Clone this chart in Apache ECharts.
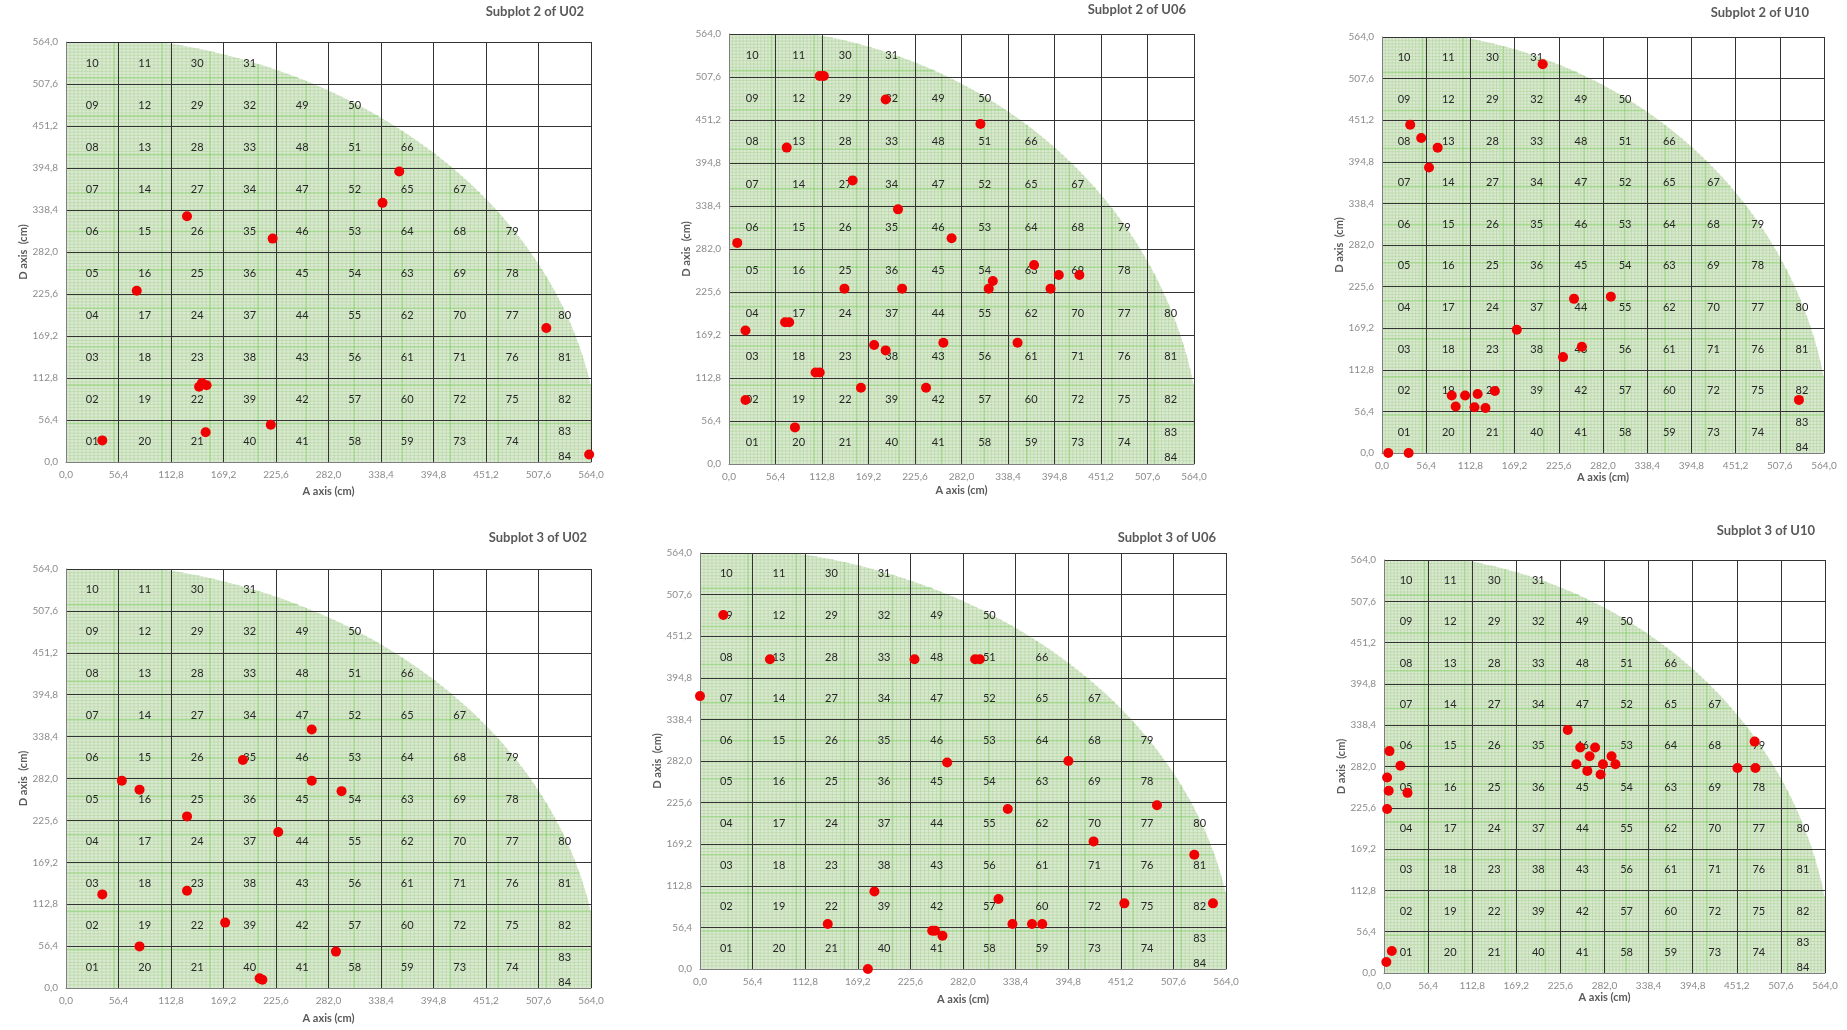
<!DOCTYPE html>
<html>
<head>
<meta charset="utf-8">
<title>Subplot positions</title>
<script src="https://cdn.jsdelivr.net/npm/echarts@6.0.0/dist/echarts.min.js"></script>
<style>
  html, body { margin: 0; padding: 0; background: #ffffff; }
  #chart { width: 1847px; height: 1030px; }
</style>
</head>
<body>
<div id="chart"></div>
<script>
// ---- axis set-up (cm) ----
const AXIS_MIN = 0;
const AXIS_MAX = 564;
const AXIS_STEP = 56.4;
const PAPER_RADIUS = 573;          // radius of the green quarter disc (cm)

// ---- cell numbering, one list per column (left to right), bottom to top ----
const cellColumns = [
  ['01', '02', '03', '04', '05', '06', '07', '08', '09', '10'],
  ['20', '19', '18', '17', '16', '15', '14', '13', '12', '11'],
  ['21', '22', '23', '24', '25', '26', '27', '28', '29', '30'],
  ['40', '39', '38', '37', '36', '35', '34', '33', '32', '31'],
  ['41', '42', '43', '44', '45', '46', '47', '48', '49'],
  ['58', '57', '56', '55', '54', '53', '52', '51', '50'],
  ['59', '60', '61', '62', '63', '64', '65', '66'],
  ['73', '72', '71', '70', '69', '68', '67'],
  ['74', '75', '76', '77', '78', '79'],
  [['83', '84'], '82', '81', '80']
];

// ---- measured positions (A cm, D cm) ----
const u02Sub2 = [
  [39, 29], [76, 230], [130, 330], [143, 101], [146, 106], [151, 103],
  [150, 40], [220, 50], [222, 300], [340, 348], [358, 390], [516, 180], [562, 10]
];
const u06Sub2 = [
  [110, 509], [115, 509], [190, 478], [305, 446], [70, 415], [150, 372],
  [205, 334], [10, 290], [270, 296], [370, 261], [400, 248], [425, 248],
  [320, 240], [315, 230], [390, 230], [140, 230], [210, 230], [68, 186],
  [73, 186], [20, 175], [176, 156], [190, 149], [260, 159], [350, 159],
  [105, 120], [110, 120], [160, 100], [239, 100], [20, 84], [80, 48]
];
const u10Sub2 = [
  [205, 527], [36, 445], [50, 427], [71, 414], [60, 387], [245, 209],
  [292, 212], [172, 167], [255, 144], [231, 130], [89, 78], [106, 78],
  [122, 80], [144, 84], [94, 63], [118, 62], [132, 61], [532, 72], [8, 0], [34, 0]
];
const u02Sub3 = [
  [264, 348], [190, 307], [60, 279], [264, 279], [79, 267], [296, 265],
  [130, 231], [228, 210], [130, 131], [39, 126], [171, 88], [79, 56],
  [290, 49], [208, 13], [211, 11]
];
const u06Sub3 = [
  [25, 480], [75, 420], [230, 420], [295, 420], [300, 420], [0, 370],
  [265, 280], [395, 282], [330, 217], [490, 222], [422, 173], [530, 155],
  [187, 105], [320, 95], [455, 89], [550, 89], [137, 61], [335, 61],
  [356, 61], [367, 61], [249, 52], [252, 52], [260, 45], [180, 0]
];
const u10Sub3 = [
  [235, 332], [251, 308], [270, 308], [263, 296], [291, 296], [246, 285],
  [280, 285], [296, 285], [260, 276], [277, 271], [474, 316], [452, 280],
  [475, 280], [7, 303], [21, 283], [4, 267], [6, 249], [30, 246], [4, 224],
  [10, 30], [3, 15]
];

const panelTitles = [
  'Subplot 2 of U02', 'Subplot 2 of U06', 'Subplot 2 of U10',
  'Subplot 3 of U02', 'Subplot 3 of U06', 'Subplot 3 of U10'
];
const panelPoints = [u02Sub2, u06Sub2, u10Sub2, u02Sub3, u06Sub3, u10Sub3];

// ---- page layout of the six panels (pixels) ----
const panelBoxes = [
  { left: 66,   top: 42,  width: 525, height: 420, titleRight: 1263, titleTop: 5,   yGap: 34, xGap: 24 },
  { left: 729,  top: 34,  width: 465, height: 430, titleRight: 661,  titleTop: 3,   yGap: 30, xGap: 21 },
  { left: 1382, top: 37,  width: 442, height: 416, titleRight: 38,   titleTop: 6,   yGap: 29, xGap: 19 },
  { left: 66,   top: 569, width: 525, height: 419, titleRight: 1260, titleTop: 531, yGap: 34, xGap: 25 },
  { left: 700,  top: 553, width: 526, height: 416, titleRight: 631,  titleTop: 531, yGap: 36, xGap: 25 },
  { left: 1384, top: 560, width: 441, height: 413, titleRight: 32,   titleTop: 524, yGap: 27, xGap: 19 }
];

const FONT = 'Lato, "Liberation Sans", sans-serif';
const tickFormat = v => v.toFixed(1).replace('.', ',');

// cell label records: [centre A, centre D, text, pixel shift]
const cellLabels = [];
cellColumns.forEach((col, c) => {
  col.forEach((entry, r) => {
    const cx = (c + 0.5) * AXIS_STEP;
    const cy = (r + 0.5) * AXIS_STEP;
    if (Array.isArray(entry)) {
      cellLabels.push([cx, cy, entry[0], -10]);
      cellLabels.push([cx, cy, entry[1], 15]);
    } else {
      cellLabels.push([cx, cy, entry, 0]);
    }
  });
});

// graph-paper quarter disc, clipped by the panel
const FINE = 4.3;
const BOLD_EVERY = 12;
function paperItem(params, api) {
  const children = [];
  const pts = [api.coord([0, 0])];
  for (let i = 0; i <= 90; i++) {
    const a = i * Math.PI / 180;
    pts.push(api.coord([PAPER_RADIUS * Math.cos(a), PAPER_RADIUS * Math.sin(a)]));
  }
  children.push({ type: 'polygon', shape: { points: pts }, style: { fill: '#dae9d1' } });
  for (let k = 1; k * FINE < PAPER_RADIUS; k++) {
    const v = k * FINE;
    const h = Math.sqrt(PAPER_RADIUS * PAPER_RADIUS - v * v);
    const bold = k % BOLD_EVERY === 0;
    const style = bold
      ? { stroke: 'rgba(130, 205, 100, 0.55)', lineWidth: 1.6 }
      : { stroke: 'rgba(160, 205, 138, 0.4)', lineWidth: 1 };
    const a1 = api.coord([v, 0]), a2 = api.coord([v, h]);
    const b1 = api.coord([0, v]), b2 = api.coord([h, v]);
    children.push({ type: 'line', shape: { x1: a1[0], y1: a1[1], x2: a2[0], y2: a2[1] }, style });
    children.push({ type: 'line', shape: { x1: b1[0], y1: b1[1], x2: b2[0], y2: b2[1] }, style });
  }
  return { type: 'group', children };
}

function cellLabelItem(params, api) {
  const p = api.coord([api.value(0), api.value(1)]);
  return {
    type: 'text',
    x: p[0],
    y: p[1] + api.value(3),
    style: {
      text: cellLabels[params.dataIndex][2],
      fill: '#262626',
      font: '11px ' + FONT,
      align: 'center',
      verticalAlign: 'middle'
    }
  };
}

const grids = [], xAxes = [], yAxes = [], titles = [], series = [];
panelBoxes.forEach((b, i) => {
  grids.push({ left: b.left, top: b.top, width: b.width, height: b.height, show: false, containLabel: false });
  titles.push({
    text: panelTitles[i], right: b.titleRight, top: b.titleTop, padding: 0,
    textStyle: { color: '#595959', fontSize: 13, fontWeight: 'bold', fontFamily: FONT }
  });
  const common = {
    type: 'value', min: AXIS_MIN, max: AXIS_MAX, interval: AXIS_STEP,
    gridIndex: i, nameLocation: 'middle',
    nameTextStyle: { color: '#595959', fontSize: 11, fontWeight: 'bold', fontFamily: FONT },
    axisLine: { show: true, lineStyle: { color: '#7f7f7f', width: 1 } },
    axisTick: { show: false },
    axisLabel: { color: '#8c8c8c', fontSize: 10, fontFamily: FONT, formatter: tickFormat, margin: 8, showMinLabel: true, showMaxLabel: true, hideOverlap: false },
    splitLine: { show: true, lineStyle: { color: '#333333', width: 1 } }
  };
  xAxes.push(Object.assign({}, common, { name: 'A axis (cm)', nameGap: b.xGap }));
  yAxes.push(Object.assign({}, common, { name: 'D axis  (cm)', nameGap: b.yGap, nameRotate: 90 }));
  series.push({
    type: 'custom', xAxisIndex: i, yAxisIndex: i, z: -1, clip: true, silent: true,
    renderItem: paperItem, data: [[0, 0]]
  });
  series.push({
    type: 'custom', xAxisIndex: i, yAxisIndex: i, z: 3, silent: true,
    renderItem: cellLabelItem, data: cellLabels
  });
  series.push({
    type: 'scatter', xAxisIndex: i, yAxisIndex: i, z: 4, symbolSize: 10,
    itemStyle: { color: '#f00000', opacity: 1 }, data: panelPoints[i]
  });
});

const chart = echarts.init(document.getElementById('chart'), null, { renderer: 'canvas' });
chart.setOption({
  animation: false,
  backgroundColor: '#ffffff',
  title: titles,
  grid: grids,
  xAxis: xAxes,
  yAxis: yAxes,
  series: series
});
</script>
</body>
</html>
